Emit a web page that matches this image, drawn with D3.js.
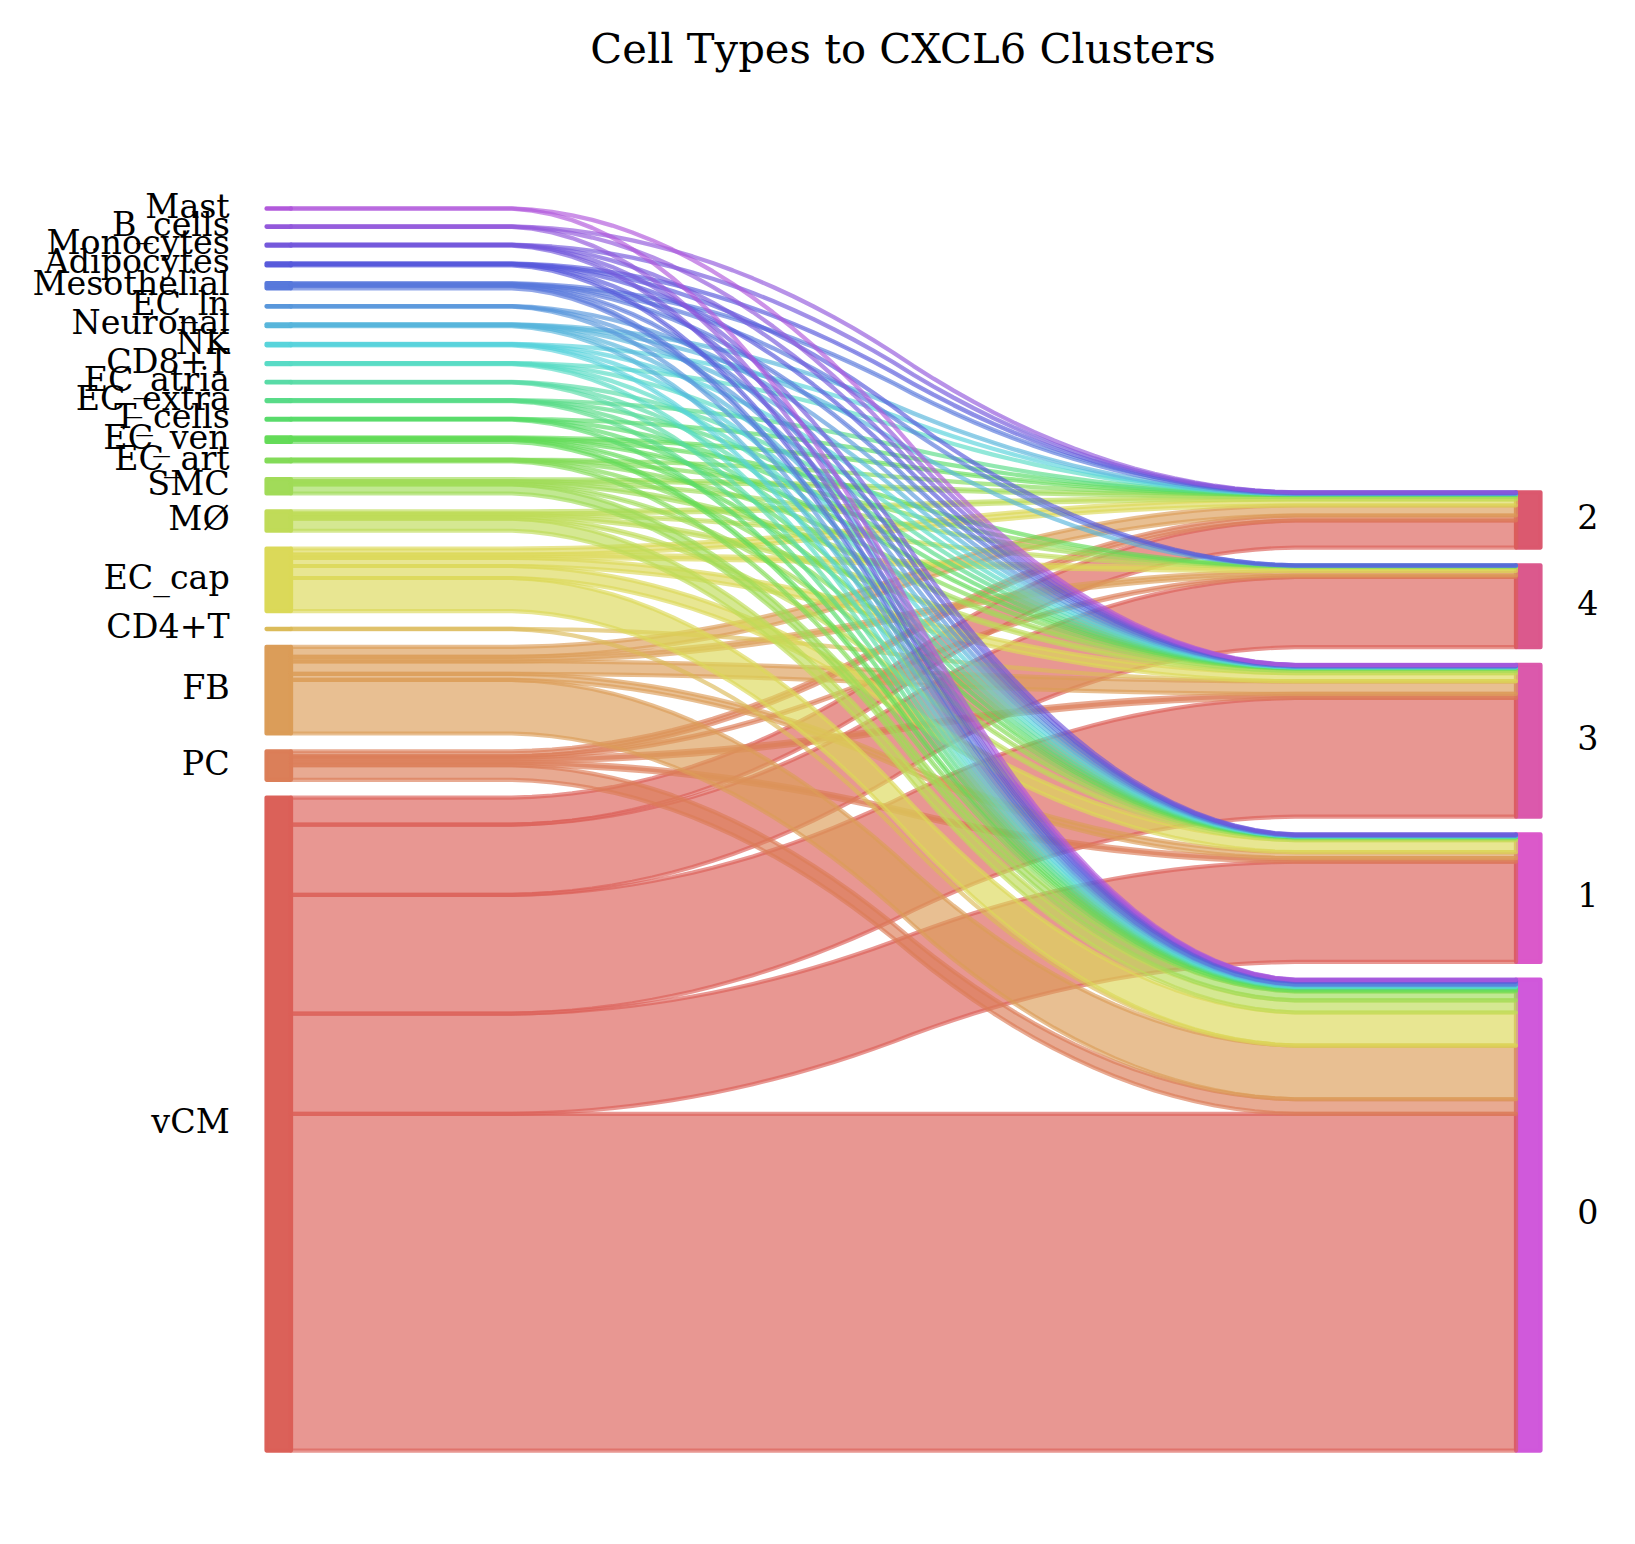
<!DOCTYPE html>
<html>
<head>
<meta charset="utf-8">
<script src="https://cdn.jsdelivr.net/npm/d3@7"></script>
<style>
  body { margin: 0; background: #fff; }
  text { font-family: 'DejaVu Serif', serif; fill: #000; }
</style>
</head>
<body>
<div class="chart"></div>
<script>
// cell types, bottom to top, and clusters, bottom to top
const leftLabels = ['vCM', 'PC', 'FB', 'CD4+T', 'EC_cap', 'MØ', 'SMC', 'EC_art', 'EC_ven', 'T_cells', 'EC_extra',
  'EC_atria', 'CD8+T', 'NK', 'Neuronal', 'EC_ln', 'Mesothelial', 'Adipocytes', 'Monocytes', 'B_cells', 'Mast']
const rightLabels = ['0', '1', '3', '4', '2']

// cells of each cell type (leftLabels order) going to each cluster
const toCluster0 = [3360, 145, 535, 1, 330, 120, 90, 10, 22, 5, 5, 3, 6, 8, 9, 3, 26, 10, 6, 2, 2]
const toCluster1 = [1000, 35, 60, 0, 120, 16, 10, 3, 6, 1, 1, 1, 2, 2, 3, 1, 7, 2, 2, 0, 0]
const toCluster3 = [1185, 40, 125, 1, 80, 25, 20, 3, 7, 1, 2, 1, 2, 3, 3, 1, 8, 4, 1, 1, 1]
const toCluster4 = [700, 15, 45, 0, 35, 8, 5, 1, 3, 0, 0, 0, 0, 0, 1, 0, 3, 1, 0, 0, 0]
const toCluster2 = [270, 50, 100, 0, 60, 25, 18, 1, 7, 1, 1, 0, 1, 1, 3, 0, 7, 3, 2, 1, 0]

const title = 'Cell Types to CXCL6 Clusters'

const flowsByCluster = { '0': toCluster0, '1': toCluster1, '3': toCluster3, '4': toCluster4, '2': toCluster2 }

const W = 1635
const H = 1544
const lw = 4.17 // edge line width

const svg = d3.select('.chart').append('svg').attr('width', W).attr('height', H)

// totals and stacking (gap = 2% of all cells)
const total = d3.sum(rightLabels, r => d3.sum(flowsByCluster[r]))
const gap = 0.02 * total

const leftPos = {}
let acc = 0
leftLabels.forEach((l, i) => {
  const v = d3.sum(rightLabels, r => flowsByCluster[r][i])
  leftPos[l] = { bottom: acc, value: v }
  acc += v + gap
})
const topEdge = acc - gap

const rightPos = {}
acc = 0
rightLabels.forEach(r => {
  const v = d3.sum(flowsByCluster[r])
  rightPos[r] = { bottom: acc, value: v }
  acc += v + gap
})

const x = d3.scaleLinear().domain([0, 1]).range([291, 1516])
const y = d3.scaleLinear().domain([0, topEdge]).range([1450.6, 208.4])

// hls palette, one hue per label
const allLabels = leftLabels.concat(rightLabels)
const color = l => {
  const i = allLabels.indexOf(l)
  const h = ((i / allLabels.length + 0.01) % 1) * 360
  return d3.hsl(h, 0.65, 0.6).formatHex()
}

const bars = svg.append('g')
leftLabels.forEach(l => {
  const p = leftPos[l]
  bars.append('rect')
    .attr('x', x(-0.02)).attr('width', x(0) - x(-0.02))
    .attr('y', y(p.bottom + p.value)).attr('height', y(p.bottom) - y(p.bottom + p.value))
    .style('fill', color(l)).style('stroke', color(l))
    .style('fill-opacity', 0.99).style('stroke-opacity', 0.99)
    .style('stroke-width', lw).style('stroke-linejoin', 'round')
  svg.append('text')
    .attr('x', x(-0.05)).attr('y', y(p.bottom + p.value / 2)).attr('dy', '0.27em')
    .attr('text-anchor', 'end').style('font-size', '33.3px').text(l)
})
rightLabels.forEach(r => {
  const p = rightPos[r]
  bars.append('rect')
    .attr('x', x(1)).attr('width', x(1.02) - x(1))
    .attr('y', y(p.bottom + p.value)).attr('height', y(p.bottom) - y(p.bottom + p.value))
    .style('fill', color(r)).style('stroke', color(r))
    .style('fill-opacity', 0.99).style('stroke-opacity', 0.99)
    .style('stroke-width', lw).style('stroke-linejoin', 'round')
  svg.append('text')
    .attr('x', x(1.05)).attr('y', y(p.bottom + p.value / 2)).attr('dy', '0.27em')
    .attr('text-anchor', 'start').style('font-size', '33.3px').text(r)
})

// smoothed step from a to b (two box filters of 20 over 100 samples)
function smoothStep(a, b) {
  let ys = d3.range(100).map(i => (i < 50 ? a : b))
  for (let k = 0; k < 2; k++) {
    ys = d3.range(ys.length - 19).map(i => d3.mean(ys.slice(i, i + 20)))
  }
  return ys
}

const area = d3.area()
  .x(d => x(d.t))
  .y0(d => y(d.lo))
  .y1(d => y(d.hi))

const strips = svg.append('g')
const leftCursor = {}
const rightCursor = {}
leftLabels.forEach(l => (leftCursor[l] = leftPos[l].bottom))
rightLabels.forEach(r => (rightCursor[r] = rightPos[r].bottom))

leftLabels.forEach((l, i) => {
  rightLabels.forEach(r => {
    const v = flowsByCluster[r][i]
    if (v <= 0) return
    const lo = smoothStep(leftCursor[l], rightCursor[r])
    const hi = smoothStep(leftCursor[l] + v, rightCursor[r] + v)
    leftCursor[l] += v
    rightCursor[r] += v
    const pts = lo.map((d, j) => ({ t: j / (lo.length - 1), lo: d, hi: hi[j] }))
    strips.append('path')
      .attr('d', area(pts))
      .style('fill', color(l)).style('stroke', color(l))
      .style('fill-opacity', 0.65).style('stroke-opacity', 0.65)
      .style('stroke-width', lw).style('stroke-linejoin', 'round')
  })
})

svg.append('text')
  .attr('x', 903).attr('y', 63)
  .attr('text-anchor', 'middle').style('font-size', '41.7px')
  .text(title)
</script>
</body>
</html>
